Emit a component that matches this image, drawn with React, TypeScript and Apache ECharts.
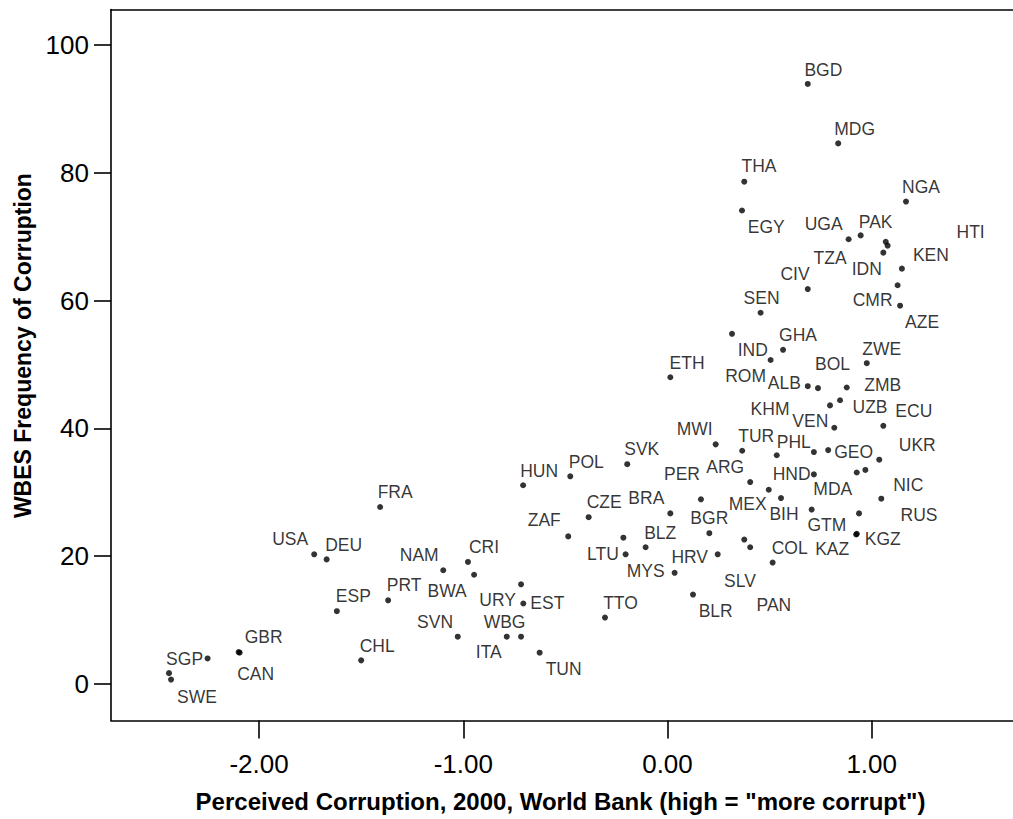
import React, { useEffect, useRef } from "react";
import * as echarts from "echarts";

const countries = ["SGP","SWE","","GBR","CAN","FRA","USA","DEU","NAM","CRI","BWA","ESP","PRT","URY","EST","SVN","ITA","WBG","TUN","CHL","HUN","POL","ZAF","CZE","SVK","MWI","TUR","PHL","PER","ARG","BRA","BGR","","BLZ","LTU","MYS","HRV","TTO","BLR","SLV","PAN","COL","MEX","BIH","HND","GTM","MDA","","","GEO","UKR","NIC","RUS","KGZ","KAZ","ECU","VEN","KHM","UZB","ZMB","BOL","ALB","ZWE","ETH","IND","ROM","GHA","SEN","CIV","CMR","AZE","KEN","IDN","HTI","PAK","UGA","TZA","NGA","THA","EGY","MDG","BGD"];

const perceived = [-2.252,-2.431,-2.441,-2.100,-2.095,-1.407,-1.730,-1.669,-1.098,-0.977,-0.947,-1.619,-1.368,-0.717,-0.706,-1.027,-0.787,-0.717,-0.626,-1.500,-0.707,-0.476,-0.486,-0.386,-0.197,0.236,0.366,0.535,0.164,0.405,0.014,0.205,-0.216,-0.107,-0.205,0.035,0.246,-0.306,0.125,0.376,0.405,0.515,0.496,0.556,0.717,0.706,0.927,0.969,0.717,0.787,1.037,1.047,0.938,0.927,0.924,1.057,0.817,0.796,0.845,0.878,0.737,0.687,0.976,0.014,0.316,0.505,0.566,0.456,0.687,1.127,1.139,1.148,1.057,1.078,0.946,0.887,1.069,1.168,0.376,0.365,0.836,0.687];

const frequency = [4.0,0.7,1.7,5.0,4.9,27.7,20.3,19.5,17.8,19.1,17.1,11.4,13.1,15.6,12.6,7.4,7.4,7.4,4.9,3.7,31.1,32.5,23.1,26.1,34.4,37.5,36.5,35.8,28.9,31.6,26.7,23.6,22.9,21.4,20.3,17.4,20.3,10.4,14.0,22.6,21.4,19.0,30.4,29.1,32.8,27.3,33.1,33.5,36.3,36.6,35.1,29.0,26.7,23.5,23.4,40.4,40.1,43.6,44.4,46.4,46.3,46.6,50.2,48.0,54.8,50.7,52.3,58.1,61.8,62.4,59.2,65.0,67.5,68.6,70.2,69.6,69.2,75.5,78.6,74.1,84.6,93.9];

// label placement relative to each point (pixels)
const labelOffsets = [[-23,1],[26,17],[0,0],[25,-15],[16,21],[15,-15],[-24,-15],[17,-14],[-24,-15.5],[16,-15],[-27,16],[16.5,-15],[16,-15],[-23.5,16],[24,0],[-22.7,-15],[-18,15.6],[-16.5,-15],[24,16],[16,-14],[16,-14.5],[16,-14],[-24,-16],[15.5,-15],[14.5,-15],[-21,-15],[14,-14.3],[17,-13.5],[-19,-25],[-25,-15],[-24,-15.4],[0,-15],[0,0],[14.6,-14.3],[-22.7,0],[-29,-2],[-28,3],[15.5,-15],[22.7,16],[-4.3,41.5],[23.7,58.2],[17,-15],[-21,14.5],[3,16],[-22.3,0],[15.3,15.5],[-24,17],[0,0],[0,0],[25.5,2],[38,-15],[27,-13.3],[60,2],[26,5],[-24,15],[30.5,-14.7],[-24,-7],[-60,3.4],[30,6.7],[36,-2.7],[14.5,-24.3],[-23.4,-3.3],[15,-14.3],[16.7,-14.6],[20.7,16],[-25,16],[15,-14.7],[1,-14.4],[-12.7,-15],[-25,14.3],[22,16],[29,-14],[-16.6,16.3],[83,-14],[15,-13.6],[-25,-15.3],[-55.7,16.6],[15,-15],[14.7,-15.3],[24.3,16.4],[16.4,-14.7],[15.6,-14.3]];

const xTicks = [-2, -1, 0, 1];
const yTicks = [0, 20, 40, 60, 80, 100];

const xTitle = 'Perceived Corruption, 2000, World Bank (high = "more corrupt")';
const yTitle = "WBES Frequency of Corruption";

const FONT = "'Liberation Sans', Arial, Helvetica, sans-serif";

export default function App() {
  const ref = useRef<HTMLDivElement>(null);
  useEffect(() => {
    if (!ref.current) return;
    const chart = echarts.init(ref.current, null, { renderer: "svg" });
    const data = countries.map((name, i) => ({
      name,
      value: [perceived[i], frequency[i]],
      label: {
        show: name !== "",
        offset: labelOffsets[i],
      },
    }));
    const axisLineStyle = { color: "#000", width: 1.6 };
    chart.setOption({
      animation: false,
      backgroundColor: "#fff",
      grid: { left: 111, right: 0, top: 9.5, bottom: 98.5, containLabel: false },
      xAxis: [
        {
          type: "value",
          position: "bottom",
          min: -2.725,
          max: 1.692,
          axisLine: { show: true, onZero: false, lineStyle: axisLineStyle },
          axisTick: { show: true, length: 18, customValues: xTicks, lineStyle: axisLineStyle },
          axisLabel: {
            show: true,
            customValues: xTicks,
            formatter: (v: number) => v.toFixed(2),
            fontSize: 26,
            color: "#000",
            fontFamily: FONT,
            margin: 30,
          },
          splitLine: { show: false },
        },
        {
          type: "value",
          position: "top",
          min: -2.725,
          max: 1.692,
          axisLine: { show: true, onZero: false, lineStyle: axisLineStyle },
          axisTick: { show: false },
          axisLabel: { show: false },
          splitLine: { show: false },
        },
      ],
      yAxis: {
        type: "value",
        min: -5.71,
        max: 105.55,
        axisLine: { show: true, onZero: false, lineStyle: axisLineStyle },
        axisTick: { show: true, length: 17, customValues: yTicks, lineStyle: axisLineStyle },
        axisLabel: {
          show: true,
          customValues: yTicks,
          fontSize: 26,
          color: "#000",
          fontFamily: FONT,
          margin: 22,
        },
        splitLine: { show: false },
      },
      series: [
        {
          type: "scatter",
          xAxisIndex: 0,
          symbol: "circle",
          symbolSize: 6,
          itemStyle: { color: "#000" },
          silent: true,
          label: {
            show: true,
            position: "inside",
            formatter: (p: any) => p.name,
            fontSize: 17.5,
            color: "#000",
            fontFamily: FONT,
            align: "center",
            verticalAlign: "middle",
          },
          emphasis: { disabled: true },
          data,
        },
      ],
      graphic: [
        {
          type: "text",
          x: 560.5,
          y: 801,
          style: {
            text: xTitle,
            font: `bold 24px ${FONT}`,
            fill: "#000",
            textAlign: "center",
            textVerticalAlign: "middle",
          },
        },
        {
          type: "text",
          x: 22.5,
          y: 345.6,
          rotation: Math.PI / 2,
          style: {
            text: yTitle,
            font: `bold 23px ${FONT}`,
            fill: "#000",
            textAlign: "center",
            textVerticalAlign: "middle",
          },
        },
      ],
    });
    return () => chart.dispose();
  }, []);
  return (
    <div
      ref={ref}
      style={{ position: "absolute", left: 0, top: 0, width: 1013, height: 819, background: "#fff" }}
    />
  );
}
